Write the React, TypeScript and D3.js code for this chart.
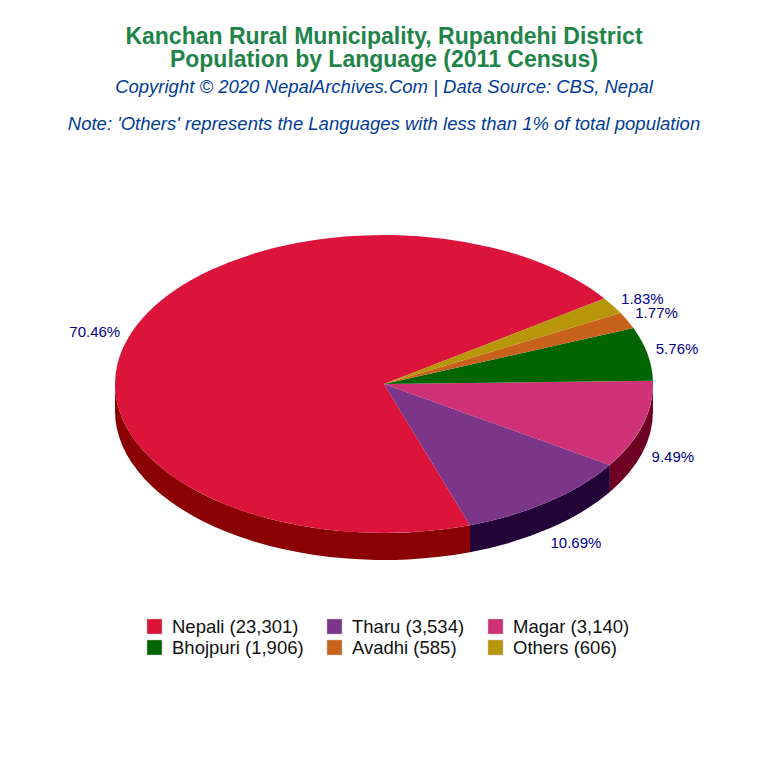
import React from 'react';
import * as d3 from 'd3';

const languages = ['Nepali', 'Tharu', 'Magar', 'Bhojpuri', 'Avadhi', 'Others'];
const population = [23301, 3534, 3140, 1906, 585, 606];
const percentLabels = ['70.46%', '10.69%', '9.49%', '5.76%', '1.77%', '1.83%'];
const topColors = ['#DC143C', '#7B3589', '#CF3276', '#006400', '#C8621A', '#B8960A'];
const sideColors = ['#8B0000', '#240338', '#6E0024', '#003000', '#6A3008', '#5E4C04'];

const width = 768;
const height = 768;
const cx = 384;
const cy = 384;
const rx = 269;
const ry = 149;
const depth = 27;
const labelRad = 1.12;
const sans = '"Liberation Sans", Arial, sans-serif';

// first slice starts at 35deg, going counter-clockwise (math angles)
const startTheta = (35 * Math.PI) / 180;

const pie = d3.pie<number>()
  .sort(null)
  .startAngle(startTheta)
  .endAngle(startTheta + 2 * Math.PI);

const slices = pie(population);

const pointAt = (t: number) => [cx + rx * Math.cos(t), cy - ry * Math.sin(t)];

// d3.arc measures clockwise from 12 o'clock, so flip the angle
const topArc = (a0: number, a1: number) =>
  d3.arc()({
    innerRadius: 0,
    outerRadius: rx,
    startAngle: Math.PI / 2 - a0,
    endAngle: Math.PI / 2 - a1,
  }) as string;

// wall of a slice, only the part on the front half of the ellipse
const sidePath = (a0: number, a1: number) => {
  const parts: string[] = [];
  [[Math.PI, 2 * Math.PI], [3 * Math.PI, 4 * Math.PI]].forEach(([lo, hi]) => {
    const s = Math.max(a0, lo);
    const e = Math.min(a1, hi);
    if (e <= s) return;
    const [x0, y0] = pointAt(s);
    const [x1, y1] = pointAt(e);
    parts.push(
      `M${x0},${y0}A${rx},${ry} 0 0 0 ${x1},${y1}L${x1},${y1 + depth}A${rx},${ry} 0 0 1 ${x0},${y0 + depth}Z`
    );
  });
  return parts.join('');
};

const legendCol = d3.scaleOrdinal<number, number>().domain([0, 1, 2]).range([147, 327, 488]);
const legendRow = d3.scaleOrdinal<number, number>().domain([0, 1]).range([619, 640]);

const App: React.FC = () => {
  // small hand nudges so the percent labels sit where the original has them
  const labelNudge = [[-3, 0], [7, 0], [-1, 0], [-2, -2], [0, 0], [2, 2]];

  return (
    <svg
      width={width}
      height={height}
      viewBox={`0 0 ${width} ${height}`}
      style={{ position: 'absolute', left: 0, top: 0, background: '#fff' }}
      fontFamily={sans}
    >
      <g textAnchor="middle">
        <text x={384} y={44} fontSize={23} fontWeight="bold" fill="#1E8449">
          Kanchan Rural Municipality, Rupandehi District
        </text>
        <text x={384} y={67} fontSize={23} fontWeight="bold" fill="#1E8449">
          Population by Language (2011 Census)
        </text>
        <text x={384} y={93} fontSize={18.5} fontStyle="italic" fill="#003C96">
          Copyright © 2020 NepalArchives.Com | Data Source: CBS, Nepal
        </text>
        <text x={384} y={130} fontSize={18.5} fontStyle="italic" fill="#003C96">
          Note: 'Others' represents the Languages with less than 1% of total population
        </text>
      </g>

      {slices.map((d, i) => (
        <path key={languages[i]} d={sidePath(d.startAngle, d.endAngle)} fill={sideColors[i]} />
      ))}

      <g transform={`translate(${cx},${cy}) scale(1,${ry / rx})`}>
        {slices.map((d, i) => (
          <path key={languages[i]} d={topArc(d.startAngle, d.endAngle)} fill={topColors[i]} />
        ))}
      </g>

      <g fontSize={15} fill="#00008B" textAnchor="middle">
        {slices.map((d, i) => {
          const mid = (d.startAngle + d.endAngle) / 2;
          const lx = cx + rx * labelRad * Math.cos(mid) + labelNudge[i][0];
          const front = Math.sin(mid) < 0 ? depth : 0;
          const ly = cy - ry * labelRad * Math.sin(mid) + front + labelNudge[i][1];
          return (
            <text key={languages[i]} x={lx} y={ly} dy="0.36em">
              {percentLabels[i]}
            </text>
          );
        })}
      </g>

      <g fontSize={18.5} fill="#111">
        {languages.map((name, i) => {
          const x = legendCol(i % 3);
          const y = legendRow(Math.floor(i / 3));
          return (
            <g key={name}>
              <rect x={x} y={y} width={15} height={15} fill={topColors[i]} stroke="#bbb" strokeWidth={0.5} />
              <text x={x + 25} y={y + 14}>
                {`${name} (${d3.format(',')(population[i])})`}
              </text>
            </g>
          );
        })}
      </g>
    </svg>
  );
};

export default App;
